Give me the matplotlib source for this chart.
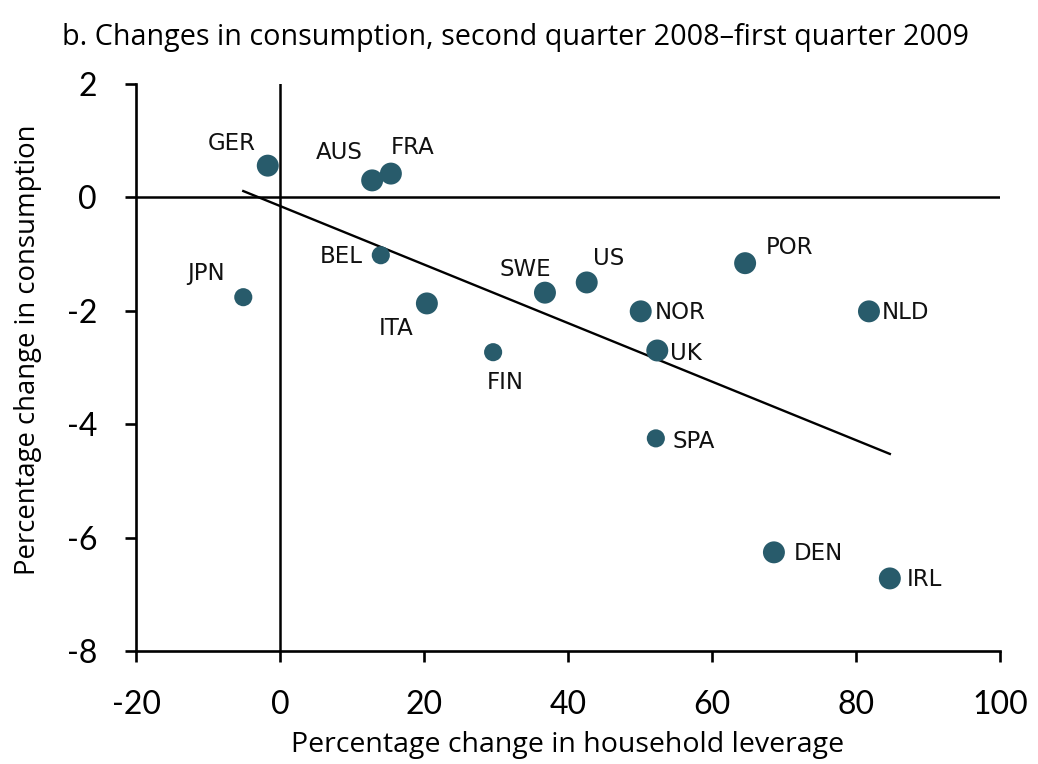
import numpy as np
import matplotlib
matplotlib.use('Agg')
import matplotlib.pyplot as plt

plt.rcParams['axes.unicode_minus']=False

## data
countries=['GER','AUS','FRA','JPN','BEL','ITA','FIN','SWE','US','NOR','UK','SPA','POR','NLD','DEN','IRL']
leverage=[-1.7,12.8,15.4,-5.1,14.0,20.4,29.6,36.8,42.6,50.1,52.4,52.2,64.6,81.8,68.6,84.7]
consumption=[0.56,0.30,0.42,-1.76,-1.02,-1.87,-2.73,-1.68,-1.50,-2.01,-2.70,-4.25,-1.16,-2.01,-6.26,-6.72]
big=[1,1,1,0,0,1,0,1,1,1,1,0,1,1,1,1]

xticks=[-20,0,20,40,60,80,100]
yticks=[2,0,-2,-4,-6,-8]

## label placement (offset in points, alignment)
offsets={
    'GER':(-26,16,'center'),'AUS':(-24,20,'center'),'FRA':(16,19,'center'),
    'JPN':(-27,17,'center'),'BEL':(-13,-1,'right'),'ITA':(-22,-18,'center'),
    'FIN':(9,-22,'center'),'SWE':(-14,17,'center'),'US':(16,17,'center'),
    'NOR':(10,-1,'left'),'UK':(9,-2,'left'),'SPA':(12,-2,'left'),
    'POR':(15,11,'left'),'NLD':(9,-1,'left'),'DEN':(14,-1,'left'),'IRL':(12,-1,'left'),
}

col='#285b6b'
txtfont='Open Sans'

fig=plt.figure(figsize=(10.38,7.64),dpi=100)
ax=fig.add_axes([136/1038,1-651/764,864/1038,567/764])

sizes=[250 if b else 170 for b in big]
ax.scatter(leverage,consumption,s=sizes,color=col,zorder=3,linewidths=0)

##trend line (OLS fit over the data range)
k,c=np.polyfit(leverage,consumption,1)
xx=np.array([min(leverage),max(leverage)])
ax.plot(xx,k*xx+c,color='black',lw=1.7,zorder=2)

ax.axhline(0,color='black',lw=1.8,zorder=1)
ax.axvline(0,color='black',lw=1.8,zorder=1)

for name,x,y in zip(countries,leverage,consumption):
    dx,dy,ha=offsets[name]
    ax.annotate(name,(x,y),xytext=(dx,dy),textcoords='offset points',
                ha=ha,va='center',fontsize=16.5,family='DejaVu Sans',color='#111111')

ax.set_xlim(-20,100)
ax.set_ylim(-8,2)
ax.set_xticks(xticks)
ax.set_yticks(yticks)
for s in ['top','right']:
    ax.spines[s].set_visible(False)
for s in ['left','bottom']:
    ax.spines[s].set_linewidth(1.9)
ax.tick_params(width=1.9,length=8,labelsize=23,pad=20)
for t in ax.get_xticklabels()+ax.get_yticklabels():
    t.set_family('Lato')

ax.set_xlabel('Percentage change in household leverage',fontsize=20.5,family=txtfont)
ax.set_ylabel('Percentage change in consumption',fontsize=19.8,family=txtfont)
ax.xaxis.set_label_coords(0.5,(651-745)/567)
ax.yaxis.set_label_coords((28-136)/864,(651-350)/567)
ax.xaxis.label.set_va('center')
ax.yaxis.label.set_va('center')

fig.text(62/1038,1-38/764,'b. Changes in consumption, second quarter 2008\u2013first quarter 2009',
         fontsize=20.7,family=txtfont,ha='left',va='center')

plt.savefig('out.png',dpi=100)
